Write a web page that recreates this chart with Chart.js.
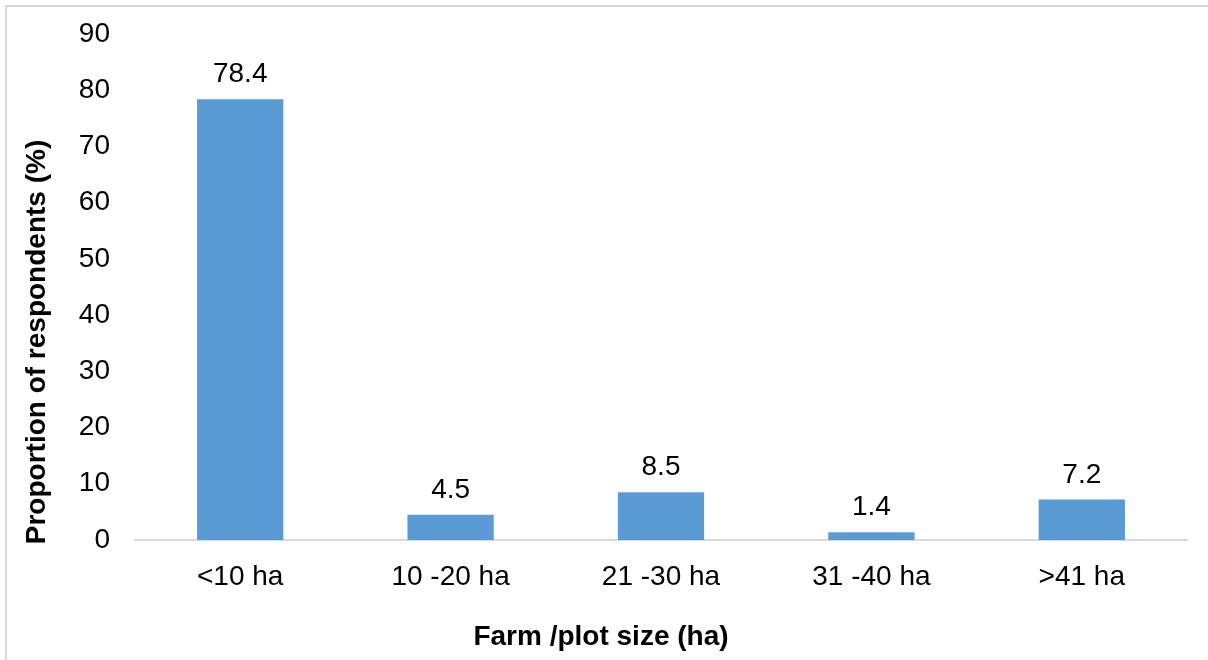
<!DOCTYPE html>
<html>
<head>
<meta charset="utf-8">
<script src="https://cdn.jsdelivr.net/npm/chart.js@4/dist/chart.umd.min.js"></script>
<style>
  html, body { margin: 0; padding: 0; background: #ffffff; }
  #wrap { position: relative; width: 1208px; height: 660px; }
</style>
</head>
<body>
<div id="wrap"><canvas id="chart" width="1208" height="660"></canvas></div>
<script>
// Farm size classes and share of respondents in each class (%)
const categories = ['<10 ha', '10 -20 ha', '21 -30 ha', '31 -40 ha', '>41 ha'];
const shares = [78.4, 4.5, 8.5, 1.4, 7.2];
const yTicks = [0, 10, 20, 30, 40, 50, 60, 70, 80, 90];
const xTitle = 'Farm /plot size (ha)';
const yTitle = 'Proportion of respondents (%)';

const FONT = '"Liberation Sans", Arial, sans-serif';
const SIZE = 28;
const TEXT = '#000000';

// Light frame around the figure
const framePlugin = {
  id: 'frame',
  beforeDraw(chart) {
    const ctx = chart.ctx;
    ctx.save();
    ctx.fillStyle = '#ffffff';
    ctx.fillRect(0, 0, chart.width, chart.height);
    ctx.strokeStyle = '#d9d9d9';
    ctx.lineWidth = 2;
    ctx.strokeRect(6, 6, chart.width + 20, chart.height + 20);
    ctx.restore();
  }
};

// Value labels above each bar
const valueLabels = {
  id: 'valueLabels',
  afterDatasetsDraw(chart) {
    const ctx = chart.ctx;
    const meta = chart.getDatasetMeta(0);
    ctx.save();
    ctx.font = SIZE + 'px ' + FONT;
    ctx.fillStyle = TEXT;
    ctx.textAlign = 'center';
    ctx.textBaseline = 'alphabetic';
    meta.data.forEach((bar, i) => {
      ctx.fillText(shares[i].toFixed(1), bar.x, bar.y - 17);
    });
    ctx.restore();
  }
};

// Axis titles, centred on the figure rather than on the plot area
const axisTitles = {
  id: 'axisTitles',
  afterDraw(chart) {
    const ctx = chart.ctx;
    ctx.save();
    ctx.font = 'bold ' + SIZE + 'px ' + FONT;
    ctx.fillStyle = TEXT;
    ctx.textAlign = 'center';
    ctx.textBaseline = 'alphabetic';
    ctx.fillText(xTitle, 601, 645);
    ctx.translate(45, 342);
    ctx.rotate(-Math.PI / 2);
    ctx.fillText(yTitle, 0, 0);
    ctx.restore();
  }
};

new Chart(document.getElementById('chart'), {
  type: 'bar',
  data: {
    labels: categories,
    datasets: [{
      data: shares,
      backgroundColor: '#5b9bd5',
      borderWidth: 0,
      barPercentage: 0.41,
      categoryPercentage: 1.0
    }]
  },
  options: {
    responsive: false,
    animation: false,
    events: [],
    layout: { padding: { top: 34, right: 21, left: 0, bottom: 0 } },
    plugins: {
      legend: { display: false },
      tooltip: { enabled: false }
    },
    scales: {
      x: {
        grid: { display: false, drawTicks: false },
        border: { display: true, color: '#d9d9d9', width: 2 },
        ticks: { color: TEXT, font: { family: FONT, size: SIZE }, padding: 20, maxRotation: 0 },
        afterFit(scale) { scale.height = 120; }
      },
      y: {
        min: 0,
        max: 90,
        afterBuildTicks(scale) { scale.ticks = yTicks.map(v => ({ value: v })); },
        grid: { display: false, drawTicks: false },
        border: { display: false },
        ticks: { color: TEXT, font: { family: FONT, size: SIZE }, padding: 25 },
        afterFit(scale) {
          scale.width = 135;
          scale.paddingTop = 10;
          scale.paddingBottom = 10;
        }
      }
    }
  },
  plugins: [framePlugin, valueLabels, axisTitles]
});
</script>
</body>
</html>
